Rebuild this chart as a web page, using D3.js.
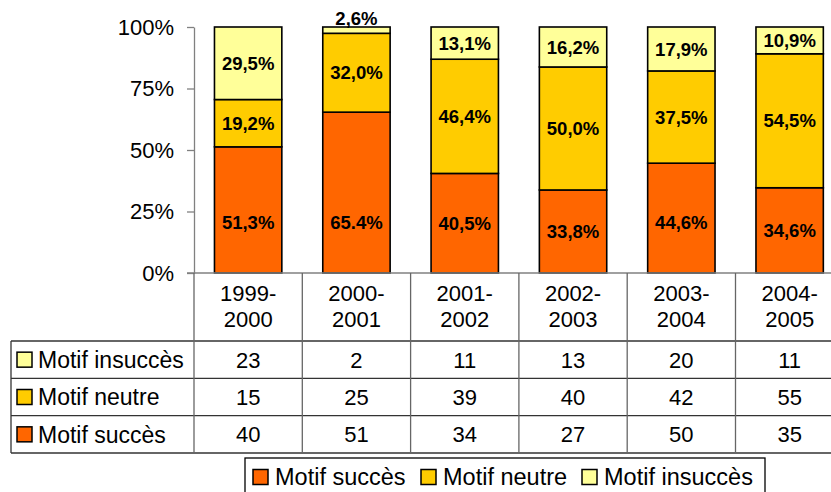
<!DOCTYPE html>
<html>
<head>
<meta charset="utf-8">
<script src="https://cdn.jsdelivr.net/npm/d3@7"></script>
<style>
  body { margin: 0; background: #fff; }
  svg { display: block; font-family: "Liberation Sans", Arial, sans-serif; }
</style>
</head>
<body>
<div id="chart"></div>
<script>
// school years (columns)
const categories = ["1999-2000", "2000-2001", "2001-2002", "2002-2003", "2003-2004", "2004-2005"];
const seriesNames = ["Motif succès", "Motif neutre", "Motif insuccès"];

// counts per series
const succes = [40, 51, 34, 27, 50, 35];
const neutre = [15, 25, 39, 40, 42, 55];
const insucces = [23, 2, 11, 13, 20, 11];

// percent labels as printed on the bars
const pctSucces = ["51,3%", "65.4%", "40,5%", "33,8%", "44,6%", "34,6%"];
const pctNeutre = ["19,2%", "32,0%", "46,4%", "50,0%", "37,5%", "54,5%"];
const pctInsucces = ["29,5%", "2,6%", "13,1%", "16,2%", "17,9%", "10,9%"];

const yTicks = [0, 0.25, 0.5, 0.75, 1];

const colors = ["#ff6600", "#ffcc00", "#ffff99"];

const width = 831, height = 492;
const axisX = 194;
const plotTop = 27, plotBottom = 273;
const tableLeft = 11;
const headerBottom = 341;
const tableBottom = 453;

const svg = d3.select("#chart").append("svg")
    .attr("width", width)
    .attr("height", height);

// rows of data for stacking
const table = categories.map(function (c, i) {
    return {cat: c, "Motif succès": succes[i], "Motif neutre": neutre[i], "Motif insuccès": insucces[i]};
});
const pctLabels = [pctSucces, pctNeutre, pctInsucces];

const x = d3.scaleBand()
    .domain(categories)
    .range([axisX, axisX + 6 * 108.3]);

const y = d3.scaleLinear()
    .domain([0, 1])
    .range([plotBottom, plotTop]);

const barW = x.bandwidth() * 0.622;

const stacked = d3.stack()
    .keys(seriesNames)
    .offset(d3.stackOffsetExpand)(table);

// bars
const layers = svg.selectAll("g.layer")
    .data(stacked)
    .enter()
    .append("g")
    .attr("class", "layer")
    .attr("fill", function (d, i) { return colors[i]; });

layers.selectAll("rect")
    .data(function (d) { return d; })
    .enter()
    .append("rect")
    .attr("x", function (d) { return x(d.data.cat) + (x.bandwidth() - barW) / 2; })
    .attr("y", function (d) { return y(d[1]); })
    .attr("width", barW)
    .attr("height", function (d) { return y(d[0]) - y(d[1]); })
    .attr("stroke", "#000")
    .attr("stroke-width", 1.6);

// bar labels
stacked.forEach(function (layer, si) {
    svg.append("g")
        .selectAll("text")
        .data(layer)
        .enter()
        .append("text")
        .attr("x", function (d) { return x(d.data.cat) + x.bandwidth() / 2; })
        .attr("y", function (d) {
            const h = y(d[0]) - y(d[1]);
            if (h < 15) return y(d[1]) - 9; // too thin: put it above the bar
            let mid = (d[0] + d[1]) / 2;
            if (si === 0) mid = Math.min(mid, 0.205); // bottom labels sit low
            return y(mid);
        })
        .attr("dy", "0.36em")
        .attr("text-anchor", "middle")
        .attr("font-size", 18.5)
        .attr("font-weight", "bold")
        .text(function (d, i) { return pctLabels[si][i]; });
});

// y axis
const yAxis = d3.axisLeft(y)
    .tickValues(yTicks)
    .tickFormat(d3.format(".0%"))
    .tickSize(7)
    .tickSizeOuter(0)
    .tickPadding(13);

const ax = svg.append("g")
    .attr("transform", "translate(" + axisX + ",0)")
    .call(yAxis);
ax.selectAll("path, line").attr("stroke", "#808080").attr("stroke-width", 1.3);
ax.selectAll("text").attr("font-size", 22).attr("fill", "#000")
    .attr("font-family", "Liberation Sans, Arial, sans-serif");

// data table
const grid = svg.append("g").attr("stroke-width", 1.3);

// base line at 0% / top of header
grid.append("line")
    .attr("x1", axisX - 7).attr("x2", width)
    .attr("y1", plotBottom).attr("y2", plotBottom)
    .attr("stroke", "#808080");

const rowNames = ["Motif insuccès", "Motif neutre", "Motif succès"];
const rowValues = [insucces, neutre, succes];
const rowColors = [colors[2], colors[1], colors[0]];

const rowY = d3.scaleBand()
    .domain(rowNames)
    .range([headerBottom, tableBottom]);

// horizontal lines
[headerBottom].concat(rowNames.map(function (r) { return rowY(r) + rowY.bandwidth(); }))
    .forEach(function (yy) {
        grid.append("line")
            .attr("x1", tableLeft).attr("x2", width)
            .attr("y1", yy).attr("y2", yy)
            .attr("stroke", "#333");
    });

// left border of the table
grid.append("line")
    .attr("x1", tableLeft).attr("x2", tableLeft)
    .attr("y1", headerBottom).attr("y2", tableBottom)
    .attr("stroke", "#333");

// column separators
categories.forEach(function (c) {
    grid.append("line")
        .attr("x1", x(c)).attr("x2", x(c))
        .attr("y1", plotBottom)
        .attr("y2", tableBottom)
        .attr("stroke", "#666");
});

// header labels (two lines)
const header = svg.append("g")
    .selectAll("text")
    .data(categories)
    .enter()
    .append("text")
    .attr("text-anchor", "middle")
    .attr("font-size", 22);

header.append("tspan")
    .attr("x", function (d) { return x(d) + x.bandwidth() / 2; })
    .attr("y", 301)
    .text(function (d) { return d.split("-")[0] + "-"; });
header.append("tspan")
    .attr("x", function (d) { return x(d) + x.bandwidth() / 2; })
    .attr("y", 327)
    .text(function (d) { return d.split("-")[1]; });

// row headers with swatches
rowNames.forEach(function (r, ri) {
    const cy = rowY(r) + rowY.bandwidth() / 2;
    svg.append("rect")
        .attr("x", 17).attr("y", cy - 7.5)
        .attr("width", 15).attr("height", 15)
        .attr("fill", rowColors[ri])
        .attr("stroke", "#000").attr("stroke-width", 1.5);
    svg.append("text")
        .attr("x", 38).attr("y", cy)
        .attr("dy", "0.36em")
        .attr("font-size", 23)
        .text(r);

    svg.append("g")
        .selectAll("text")
        .data(rowValues[ri])
        .enter()
        .append("text")
        .attr("x", function (d, i) { return x(categories[i]) + x.bandwidth() / 2; })
        .attr("y", cy)
        .attr("dy", "0.36em")
        .attr("text-anchor", "middle")
        .attr("font-size", 22)
        .text(function (d) { return d; });
});

// legend
const legend = svg.append("g");
legend.append("rect")
    .attr("x", 245).attr("y", 458)
    .attr("width", 520).attr("height", 50)
    .attr("fill", "#fff")
    .attr("stroke", "#000").attr("stroke-width", 1.3);

const legendX = [253, 421, 582];
seriesNames.forEach(function (s, i) {
    legend.append("rect")
        .attr("x", legendX[i]).attr("y", 469.5)
        .attr("width", 15).attr("height", 15)
        .attr("fill", colors[i])
        .attr("stroke", "#000").attr("stroke-width", 1.5);
    legend.append("text")
        .attr("x", legendX[i] + 22).attr("y", 485)
        .attr("font-size", 23.5)
        .text(s);
});
</script>
</body>
</html>
